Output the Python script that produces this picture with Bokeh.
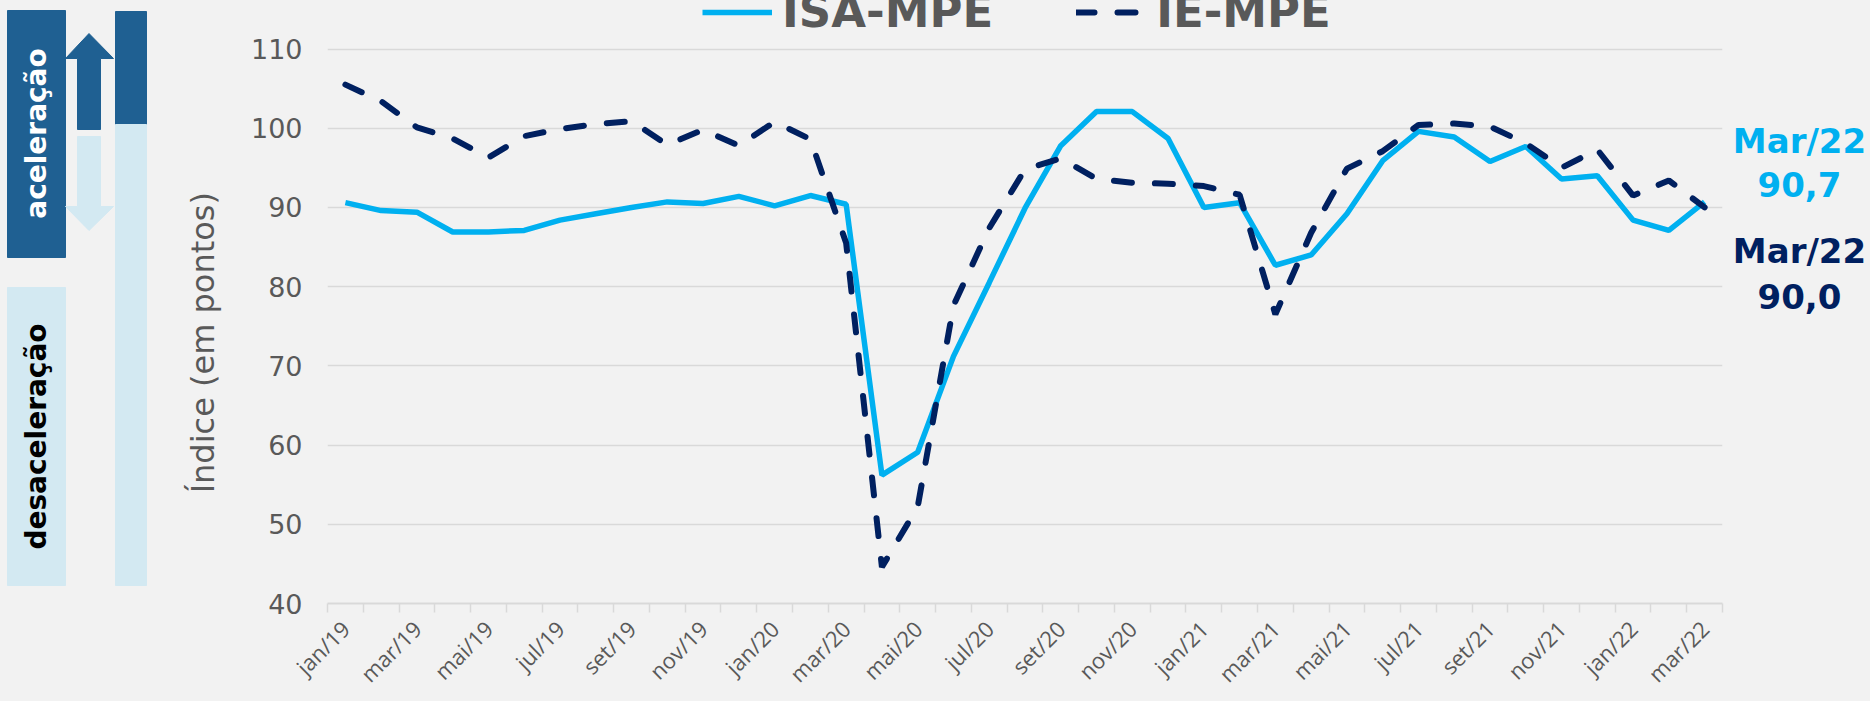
import math
from bokeh.plotting import figure
from bokeh.models import Range1d, FixedTicker, Legend, LegendItem
from bokeh.layouts import row
from bokeh.core.properties import value
from bokeh.embed import file_html
from bokeh.resources import INLINE

# ---------------- data ----------------
months = ["jan/19", "fev/19", "mar/19", "abr/19", "mai/19", "jun/19", "jul/19", "ago/19",
          "set/19", "out/19", "nov/19", "dez/19",
          "jan/20", "fev/20", "mar/20", "abr/20", "mai/20", "jun/20", "jul/20", "ago/20",
          "set/20", "out/20", "nov/20", "dez/20",
          "jan/21", "fev/21", "mar/21", "abr/21", "mai/21", "jun/21", "jul/21", "ago/21",
          "set/21", "out/21", "nov/21", "dez/21",
          "jan/22", "fev/22", "mar/22"]

isa_mpe = [90.6, 89.6, 89.4, 86.9, 86.9, 87.1, 88.4, 89.2, 90.0, 90.7, 90.5, 91.4,
           90.2, 91.5, 90.4, 56.2, 59.1, 71.2, 80.5, 89.9, 97.8, 102.1, 102.1, 98.7,
           90.0, 90.6, 82.7, 84.0, 89.2, 95.9, 99.6, 98.9, 95.8, 97.7, 93.6, 94.0,
           88.4, 87.1, 90.7]

ie_mpe = [105.5, 103.4, 100.1, 98.7, 96.3, 99.0, 99.9, 100.5, 100.9, 97.9, 99.8, 97.8,
          100.8, 98.6, 85.5, 44.6, 52.2, 77.6, 87.4, 94.8, 96.2, 93.6, 93.1, 93.0,
          92.7, 91.6, 76.5, 86.8, 94.9, 97.1, 100.4, 100.6, 100.2, 98.1, 95.0, 97.3,
          91.5, 93.4, 90.0]

series_names = ["ISA-MPE", "IE-MPE"]
y_ticks = [40, 50, 60, 70, 80, 90, 100, 110]
panel_labels = ["aceleração", "desaceleração"]
y_title = "Índice (em pontos)"

BG = "#F2F2F2"
LIGHT = "#00B0F0"
NAVY = "#002060"
DARKBOX = "#1F6092"
LIGHTBOX = "#D3E9F2"
GRAY = "#595959"
GRID = "#D9D9D9"

H = 701
FRAME_BOTTOM = 603          # page y of the 40 line
xs = list(range(len(months)))


def fmt(v):
    return f"{v:.1f}".replace(".", ",")


def side_fig(w, x0):
    f = figure(width=w, height=H, x_range=Range1d(x0, x0 + w), y_range=Range1d(FRAME_BOTTOM, 0),
               output_backend="svg", toolbar_location=None, min_border=0,
               x_axis_location=None, y_axis_location=None,
               background_fill_color=BG, border_fill_color=BG, outline_line_color=None)
    f.grid.visible = False
    return f


# ---------------- left panel ----------------
left = side_fig(160, 0)
left.quad(left=[7], right=[65], top=[10], bottom=[257], color=DARKBOX)
left.quad(left=[7], right=[65], top=[287], bottom=[585], color=LIGHTBOX)
left.quad(left=[115], right=[146], top=[11], bottom=[124], color=DARKBOX)
left.quad(left=[115], right=[146], top=[124], bottom=[585], color=LIGHTBOX)
left.patch([77, 77, 65, 88.5, 113, 100, 100], [129, 58, 58, 33, 58, 58, 129], color=DARKBOX)
left.patch([77, 77, 65, 88.5, 113, 100, 100], [136, 206, 206, 230, 206, 206, 136], color=LIGHTBOX)
for txt, yy, col in [(panel_labels[0], 133, "white"), (panel_labels[1], 436, "black")]:
    left.text(x=[36], y=[yy], text=[txt], angle=math.pi / 2, text_color=col,
              text_font=value("DejaVu Sans"), text_font_style="bold", text_font_size="28px",
              text_align="center", text_baseline="middle")

# ---------------- main chart ----------------
# frame spans page y 0..603; 110 sits at page y 48.5
px_per_unit = (FRAME_BOTTOM - 48.5) / 70.0
y_top = 40 + FRAME_BOTTOM / px_per_unit
p = figure(width=1572, height=H, x_range=Range1d(-0.5, len(months) - 0.5),
           y_range=Range1d(40, y_top), output_backend="svg", toolbar_location=None,
           min_border_left=167, min_border_right=10, min_border_top=0,
           min_border_bottom=H - FRAME_BOTTOM,
           background_fill_color=BG, border_fill_color=BG, outline_line_color=None)

r1 = p.line(xs, isa_mpe, line_color=LIGHT, line_width=5.5)
r2 = p.line(xs, ie_mpe, line_color=NAVY, line_width=6, line_dash="18 23", line_cap="round")

p.xgrid.visible = False
p.ygrid.ticker = FixedTicker(ticks=y_ticks)
p.ygrid.grid_line_color = GRID
p.ygrid.grid_line_width = 1.5

xa = p.xaxis[0]
xa.ticker = FixedTicker(ticks=xs[::2], minor_ticks=[i - 0.5 for i in range(len(months) + 1)])
xa.major_label_overrides = {i: months[i] for i in xs}
xa.major_label_orientation = math.pi / 4
xa.major_tick_line_color = None
xa.major_tick_out = 0
xa.minor_tick_line_color = GRID
xa.minor_tick_line_width = 1.5
xa.minor_tick_out = 9
xa.minor_tick_in = 0
xa.axis_line_color = GRID
xa.axis_line_width = 2
xa.major_label_text_font = "Open Sans"
xa.major_label_text_font_size = "22px"
xa.major_label_text_color = GRAY
xa.major_label_standoff = 12

ya = p.yaxis[0]
ya.ticker = FixedTicker(ticks=y_ticks)
ya.axis_line_color = None
ya.major_tick_line_color = None
ya.minor_tick_line_color = None
ya.major_tick_out = 0
ya.major_label_standoff = 25
ya.major_label_text_font = "DejaVu Sans"
ya.major_label_text_font_size = "27px"
ya.major_label_text_color = GRAY
# trailing no-break spaces shift the centred title down to where the reference has it
ya.axis_label = y_title + "\u00a0" * 8
ya.axis_label_text_font = "DejaVu Sans"
ya.axis_label_text_font_size = "32px"
ya.axis_label_text_font_style = "normal"
ya.axis_label_text_color = GRAY
ya.axis_label_standoff = 26

legend = Legend(items=[LegendItem(label=series_names[0], renderers=[r1]),
                       LegendItem(label=series_names[1], renderers=[r2])],
                orientation="horizontal", location=(375, FRAME_BOTTOM - 12 - 26),
                background_fill_alpha=0, border_line_color=None,
                padding=0, margin=0, spacing=83, label_standoff=10,
                glyph_width=70, glyph_height=52, label_height=52,
                label_text_font="DejaVu Sans", label_text_font_style="bold",
                label_text_font_size="45px", label_text_color=GRAY)
p.add_layout(legend)

# ---------------- right annotations ----------------
right = side_fig(138, 1732)
last = months[-1].capitalize()
for txt, yy, col in [(last, 140, LIGHT), (fmt(isa_mpe[-1]), 184, LIGHT),
                     (last, 250, NAVY), (fmt(ie_mpe[-1]), 296, NAVY)]:
    right.text(x=[1799], y=[yy], text=[txt], text_color=col,
               text_font=value("DejaVu Sans"), text_font_style="bold",
               text_font_size="34px", text_align="center", text_baseline="middle")

layout = row(left, p, right)
html = file_html(layout, INLINE)
html = html.replace("</head>", "<style>html,body{background:#F2F2F2;}</style></head>", 1)
open("out.html", "w").write(html)
